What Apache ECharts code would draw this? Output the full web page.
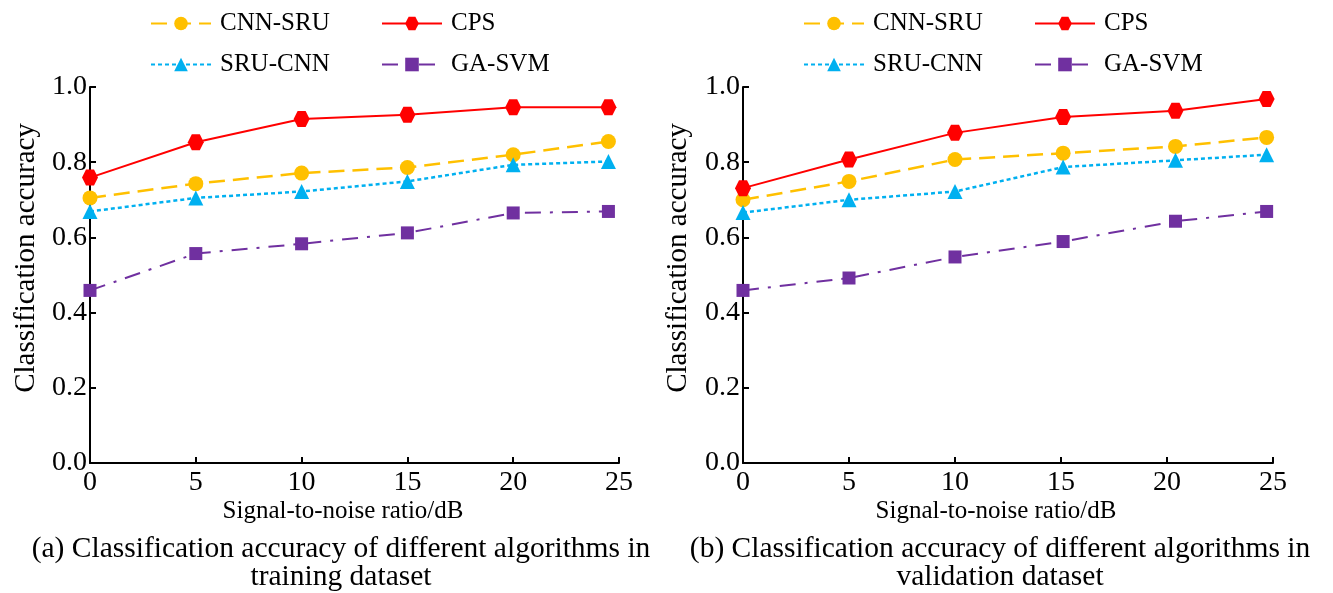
<!DOCTYPE html>
<html>
<head>
<meta charset="utf-8">
<script src="https://cdn.jsdelivr.net/npm/echarts@6/dist/echarts.min.js"></script>
<style>
html,body{margin:0;padding:0;background:#fff;}
#chart{width:1333px;height:593px;}
</style>
</head>
<body>
<div id="chart"></div>
<script>
// ---- data ----
const seriesNames = ['CNN-SRU', 'CPS', 'SRU-CNN', 'GA-SVM'];
const yTicks = ['0.0', '0.2', '0.4', '0.6', '0.8', '1.0'];
const xTicks = [0, 5, 10, 15, 20, 25];

// (a) training dataset
const snrTrain = [0, 5, 10, 15, 20, 24.5];
const cnnSruTrain = [0.705, 0.743, 0.771, 0.786, 0.820, 0.855];
const cpsTrain    = [0.759, 0.853, 0.915, 0.926, 0.946, 0.946];
const sruCnnTrain = [0.669, 0.705, 0.722, 0.749, 0.793, 0.802];
const gaSvmTrain  = [0.459, 0.557, 0.583, 0.612, 0.665, 0.669];

// (b) validation dataset
const snrValid = [0, 5, 10, 15.1, 20.4, 24.7];
const cnnSruValid = [0.700, 0.749, 0.807, 0.824, 0.842, 0.866];
const cpsValid    = [0.731, 0.807, 0.878, 0.920, 0.937, 0.968];
const sruCnnValid = [0.666, 0.700, 0.722, 0.787, 0.805, 0.820];
const gaSvmValid  = [0.459, 0.492, 0.548, 0.589, 0.643, 0.669];

const captionA = '(a) Classification accuracy of different algorithms in\ntraining dataset';
const captionB = '(b) Classification accuracy of different algorithms in\nvalidation dataset';
const xName = 'Signal-to-noise ratio/dB';
const yName = 'Classification accuracy';

// ---- styling ----
const FONT = '"Liberation Serif", "Times New Roman", serif';
const hexagon = 'path://M-1,0 L-0.5,-0.866 L0.5,-0.866 L1,0 L0.5,0.866 L-0.5,0.866 Z';
const styles = {
  'CNN-SRU': {color: '#FFC000', type: [16, 8], symbol: 'circle', size: 15, width: 2.5},
  'CPS':     {color: '#FF0000', type: 'solid', symbol: hexagon, size: 16, width: 2},
  'SRU-CNN': {color: '#00B0F0', type: [4, 3], symbol: 'triangle', size: 15, width: 2.5},
  'GA-SVM':  {color: '#7030A0', type: [16, 9, 3, 9], symbol: 'rect', size: 13, width: 2}
};

function pairs(xs, ys) { return xs.map((x, i) => [x, ys[i]]); }

function makeSeries(name, xs, ys, idx) {
  const s = styles[name];
  return {
    name: name, type: 'line', xAxisIndex: idx, yAxisIndex: idx,
    data: pairs(xs, ys),
    symbol: s.symbol, symbolSize: s.size, showSymbol: true,
    lineStyle: {color: s.color, width: s.width, type: s.type},
    itemStyle: {color: s.color},
    emphasis: {disabled: true},
    animation: false, z: name === 'CPS' ? 3 : 2
  };
}

const grids = [
  {left: 90, top: 87, width: 529, height: 376},
  {left: 743, top: 87, width: 530, height: 376}
];

function xAxis(idx) {
  return {
    type: 'value', gridIndex: idx, min: 0, max: 25, interval: 5,
    axisLine: {lineStyle: {color: '#000', width: 2}},
    axisTick: {inside: true, length: 6, lineStyle: {color: '#000', width: 2}},
    axisLabel: {fontFamily: FONT, fontSize: 28, color: '#000', margin: 6,
      formatter: v => (xTicks.indexOf(v) >= 0 ? String(v) : '')},
    splitLine: {show: false}
  };
}
function yAxis(idx) {
  return {
    type: 'value', gridIndex: idx, min: 0, max: 1, interval: 0.2,
    axisLine: {lineStyle: {color: '#000', width: 2}},
    axisTick: {inside: true, length: 6, lineStyle: {color: '#000', width: 2}},
    axisLabel: {fontFamily: FONT, fontSize: 28, color: '#000', margin: 3,
      formatter: v => yTicks[Math.round(v / 0.2)]},
    splitLine: {show: false}
  };
}

function legends(col1Left, col2Left) {
  const common = {
    orient: 'vertical', top: 6, itemWidth: 60, itemHeight: 17, itemGap: 16,
    textStyle: {fontFamily: FONT, fontSize: 25, color: '#000', padding: [0, 0, 0, 4]},
    selectedMode: false
  };
  return [
    Object.assign({left: col1Left, data: ['CNN-SRU', 'SRU-CNN']}, common),
    Object.assign({left: col2Left, data: ['CPS', 'GA-SVM']}, common)
  ];
}

function txt(x, y, text, size, extra) {
  return {type: 'text', x: x, y: y, silent: true,
    style: Object.assign({text: text, textAlign: 'center', textVerticalAlign: 'middle',
      fontFamily: FONT, fontSize: size, fill: '#000'}, extra || {})};
}

const option = {
  backgroundColor: '#fff',
  animation: false,
  grid: grids,
  xAxis: [xAxis(0), xAxis(1)],
  yAxis: [yAxis(0), yAxis(1)],
  legend: legends(145, 376).concat(legends(798, 1029)),
  series: [
    makeSeries('CNN-SRU', snrTrain, cnnSruTrain, 0),
    makeSeries('CPS', snrTrain, cpsTrain, 0),
    makeSeries('SRU-CNN', snrTrain, sruCnnTrain, 0),
    makeSeries('GA-SVM', snrTrain, gaSvmTrain, 0),
    makeSeries('CNN-SRU', snrValid, cnnSruValid, 1),
    makeSeries('CPS', snrValid, cpsValid, 1),
    makeSeries('SRU-CNN', snrValid, sruCnnValid, 1),
    makeSeries('GA-SVM', snrValid, gaSvmValid, 1)
  ],
  graphic: [
    txt(343, 511, xName, 25),
    txt(996, 511, xName, 25),
    Object.assign(txt(26, 258, yName, 29), {rotation: Math.PI / 2}),
    Object.assign(txt(678, 258, yName, 29), {rotation: Math.PI / 2}),
    {type: 'text', x: 341, y: 535, silent: true, style: {text: captionA, textAlign: 'center', fontFamily: FONT, fontSize: 29.5, lineHeight: 28, fill: '#000'}},
    {type: 'text', x: 1000, y: 535, silent: true, style: {text: captionB, textAlign: 'center', fontFamily: FONT, fontSize: 29.5, lineHeight: 28, fill: '#000'}}
  ]
};

const chart = echarts.init(document.getElementById('chart'), null, {renderer: 'canvas'});
chart.setOption(option);
</script>
</body>
</html>
